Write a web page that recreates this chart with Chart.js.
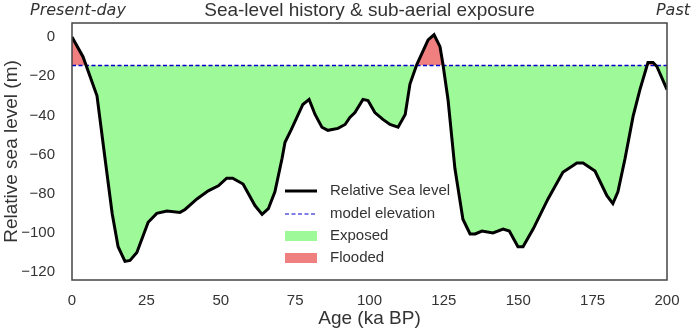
<!DOCTYPE html>
<html>
<head>
<meta charset="utf-8">
<script src="https://cdn.jsdelivr.net/npm/chart.js@4/dist/chart.umd.min.js"></script>
<style>
  html, body { margin: 0; padding: 0; background: #fff; }
  #wrap { width: 692px; height: 330px; position: relative; }
</style>
</head>
<body>
<div id="wrap"><canvas id="chart"></canvas></div>
<script>
// Sea-level curve (age in ka BP, level in m)
const ages = [0, 3.7, 8.4, 11.1, 13.5, 15.5, 17.8, 19.5, 21.8, 25.6, 28.5, 31.9, 36.3, 38, 42, 45.8, 49.2, 52, 54, 57.5,
  61.5, 63.9, 66, 68.2, 70.6, 71.6, 73.7, 77.6, 79.7, 81.7, 84, 86, 89.4, 91.8, 93.4, 95.1, 97.8, 99.5, 101.8, 104.5,
  106.9, 109.6, 112, 113.6, 115.9, 119.7, 121.7, 123.7, 124.7, 126.4, 128.7, 131.4, 133.8, 135.5, 137.8, 141.5, 144.9, 147, 149.9, 151.6,
  155, 160, 165, 169.7, 171.8, 175.8, 179.8, 181.8, 183.5, 185.9, 188.6, 190.9, 193.6, 195.3, 196.6, 200];
const seaLevel = [0, -10, -30, -62, -90, -107, -114.5, -114, -110, -94.5, -90, -88.8, -89.5, -88, -82.6, -78.5, -75.9, -72, -72, -75,
  -86, -90.5, -87.6, -79, -62, -53.7, -47.2, -34.4, -31.8, -39.5, -46, -47.6, -46.6, -44.6, -41, -38.5, -31.8, -32.4, -38.5, -42,
  -44.6, -46, -39.5, -24, -14, -1.4, 1.2, -4.9, -14, -32, -67, -93, -100.5, -100.5, -99, -100, -98, -99, -107, -107,
  -98, -82.6, -69, -64.3, -64.3, -68.4, -81, -85, -79, -62, -40.5, -26.8, -13, -13, -15, -26.8];
const modelElevation = -14.5;
const xTicks = [0, 25, 50, 75, 100, 125, 150, 175, 200];
const yTicks = [0, -20, -40, -60, -80, -100, -120];

const textColor = '#333333';
const exposedColor = 'rgb(158, 249, 152)';
const floodedColor = 'rgb(240, 128, 128)';
const fontFamily = '"Liberation Sans", Arial, sans-serif';

// Frame, titles and legend drawn on top of the chart
const decorPlugin = {
  id: 'decor',
  afterDraw(chart) {
    const { ctx, chartArea: a } = chart;
    ctx.save();
    ctx.strokeStyle = '#444';
    ctx.lineWidth = 1.5;
    ctx.strokeRect(a.left, a.top, a.right - a.left, a.bottom - a.top);

    ctx.fillStyle = textColor;
    ctx.textBaseline = 'middle';
    ctx.font = '19px ' + fontFamily;
    ctx.textAlign = 'center';
    ctx.fillText('Sea-level history & sub-aerial exposure', (a.left + a.right) / 2, 11);
    ctx.font = 'italic 16px "DejaVu Sans", sans-serif';
    ctx.textAlign = 'left';
    ctx.fillText('Present-day', 30, 11);
    ctx.textAlign = 'right';
    ctx.fillText('Past', 690, 11);

    // legend
    const lx = 285, tx = 330;
    const rows = [191, 214, 236, 258];
    ctx.font = '15px ' + fontFamily;
    ctx.textAlign = 'left';
    ctx.strokeStyle = '#000';
    ctx.lineWidth = 3;
    ctx.beginPath(); ctx.moveTo(lx, rows[0]); ctx.lineTo(lx + 32, rows[0]); ctx.stroke();
    ctx.strokeStyle = '#0000cc';
    ctx.lineWidth = 1.2;
    ctx.setLineDash([4, 2.5]);
    ctx.beginPath(); ctx.moveTo(lx, rows[1]); ctx.lineTo(lx + 32, rows[1]); ctx.stroke();
    ctx.setLineDash([]);
    ctx.fillStyle = exposedColor;
    ctx.fillRect(lx, rows[2] - 5, 32, 10);
    ctx.fillStyle = floodedColor;
    ctx.fillRect(lx, rows[3] - 5, 32, 10);
    ctx.fillStyle = textColor;
    ['Relative Sea level', 'model elevation', 'Exposed', 'Flooded'].forEach((t, i) => {
      ctx.fillText(t, tx, rows[i]);
    });
    ctx.restore();
  }
};

new Chart(document.getElementById('chart'), {
  type: 'line',
  data: {
    datasets: [{
      label: 'Relative Sea level',
      data: ages.map((a, i) => ({ x: a, y: seaLevel[i] })),
      borderColor: '#000',
      borderWidth: 3,
      pointRadius: 0,
      tension: 0,
      fill: { target: { value: modelElevation }, above: floodedColor, below: exposedColor }
    }, {
      label: 'model elevation',
      data: [{ x: 0, y: modelElevation }, { x: 200, y: modelElevation }],
      borderColor: '#0000cc',
      borderWidth: 1.3,
      borderDash: [4, 2.5],
      pointRadius: 0,
      fill: false
    }]
  },
  options: {
    responsive: true,
    maintainAspectRatio: false,
    animation: false,
    layout: { padding: { top: 23, right: 25, left: 0, bottom: 0 } },
    plugins: {
      legend: { display: false },
      tooltip: { enabled: false },
      filler: { drawTime: 'beforeDatasetsDraw' }
    },
    scales: {
      x: {
        type: 'linear',
        min: 0,
        max: 200,
        afterBuildTicks: s => { s.ticks = xTicks.map(v => ({ value: v })); },
        afterFit: s => { s.height = 50; },
        grid: { display: false },
        border: { display: false },
        ticks: { color: textColor, font: { size: 15, family: fontFamily }, padding: 4, maxRotation: 0 },
        title: { display: true, text: 'Age (ka BP)', color: textColor, font: { size: 19, family: fontFamily }, padding: { top: 0, bottom: 0 } }
      },
      y: {
        min: -124,
        max: 7.2,
        afterBuildTicks: s => { s.ticks = yTicks.map(v => ({ value: v })); },
        afterFit: s => { s.width = 72; },
        grid: { display: false },
        border: { display: false },
        ticks: {
          color: textColor,
          font: { size: 15, family: fontFamily },
          padding: 9,
          callback: v => String(v).replace('-', '\u2212')
        },
        title: { display: true, text: 'Relative sea level (m)', color: textColor, font: { size: 19, family: fontFamily }, padding: { top: 0, bottom: 0 } }
      }
    }
  },
  plugins: [decorPlugin]
});
</script>
</body>
</html>
